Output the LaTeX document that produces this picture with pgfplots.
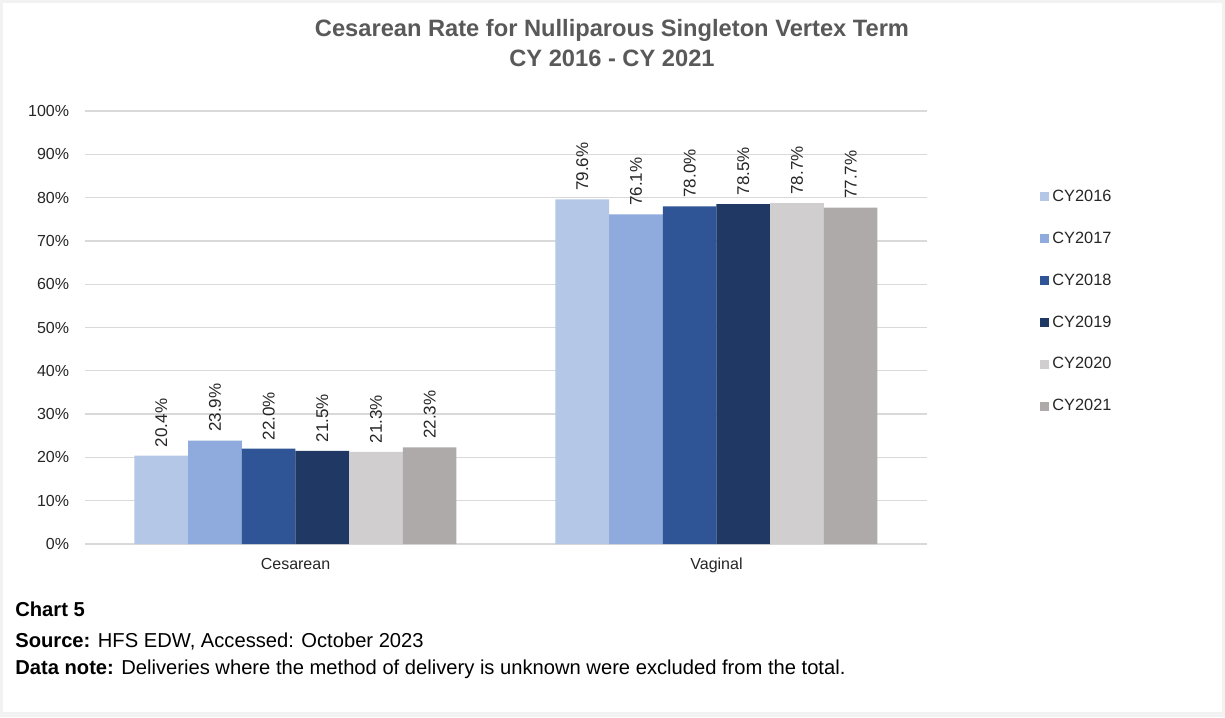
\documentclass[border=0pt]{standalone}
\usepackage{pgfplots}
\pgfplotsset{compat=1.18}
\usepackage{fontspec}
\setmainfont{Liberation Sans}

\definecolor{cA}{HTML}{B4C7E7}
\definecolor{cB}{HTML}{8FAADC}
\definecolor{cC}{HTML}{2F5597}
\definecolor{cD}{HTML}{203864}
\definecolor{cE}{HTML}{D0CECE}
\definecolor{cF}{HTML}{AEAAAA}
\definecolor{gridc}{HTML}{D9D9D9}
\definecolor{titlec}{HTML}{595959}
\definecolor{txt}{HTML}{262626}
\definecolor{frame}{HTML}{F2F2F2}

\begin{document}
\begin{tikzpicture}
% background panel (1px = 0.6pt)
\begin{scope}[x=0.6pt,y=-0.6pt]
  \fill[frame] (0,0) rectangle (1225,717);
  \fill[white] (3,3) rectangle (1222,712);
  \node[font=\bfseries\fontsize{14.2}{16}\selectfont, text=titlec] at (612,30) {Cesarean Rate for Nulliparous Singleton Vertex Term};
  \node[font=\bfseries\fontsize{14.2}{16}\selectfont, text=titlec] at (612,58) {CY 2016 - CY 2021};
  \node[anchor=base west, font=\fontsize{12.1}{14}\selectfont, text=black, inner sep=0pt] at (15,616) {\textbf{Chart 5}};
  \node[anchor=base west, font=\fontsize{12.1}{14}\selectfont, text=black, inner sep=0pt] at (15,647) {\textbf{Source:} HFS EDW, Accessed: October 2023};
  \node[anchor=base west, font=\fontsize{12.1}{14}\selectfont, text=black, inner sep=0pt] at (15,674) {\textbf{Data note:} Deliveries where the method of delivery is unknown were excluded from the total.};
\end{scope}

\begin{axis}[
    at={(51pt,-326.4pt)}, anchor=south west,
    scale only axis,
    width=505.2pt, height=259.8pt,
    ybar=0pt,
    bar width=32.2pt,
    xmin=-0.5, xmax=1.5,
    ymin=0, ymax=100,
    xtick={0,1},
    xticklabels={Cesarean,Vaginal},
    ytick={0,10,...,100},
    yticklabel={\pgfmathprintnumber{\tick}\%},
    /pgf/number format/assume math mode=true,
    ymajorgrids,
    grid style={gridc, line width=0.8pt},
    axis line style={draw=none},
    tick style={draw=none},
    ticklabel style={font=\fontsize{9.6}{11}\selectfont, text=txt},
    yticklabel style={xshift=-6pt},
    xticklabel style={yshift=-0.8pt},
    nodes near coords={\pgfmathprintnumber[fixed,fixed zerofill,precision=1]{\pgfplotspointmeta}\%},
    every node near coord/.append style={rotate=90, anchor=west, font=\fontsize{10.2}{12}\selectfont, text=txt, inner xsep=5pt},
    legend image code/.code={\fill[#1] (0pt,-2.7pt) rectangle (5.4pt,2.7pt);},
    legend cell align=left,
    legend style={at={(1.128,0.834)}, anchor=north west, draw=none, fill=none,
        font=\fontsize{9.8}{11}\selectfont, text=txt, row sep=12.8pt,
        /tikz/every even column/.append style={column sep=1pt}},
]
\addplot[fill=cA, draw=none] coordinates {(0,20.4) (1,79.6)};
\addplot[fill=cB, draw=none] coordinates {(0,23.9) (1,76.1)};
\addplot[fill=cC, draw=none] coordinates {(0,22.0) (1,78.0)};
\addplot[fill=cD, draw=none] coordinates {(0,21.5) (1,78.5)};
\addplot[fill=cE, draw=none] coordinates {(0,21.3) (1,78.7)};
\addplot[fill=cF, draw=none] coordinates {(0,22.3) (1,77.7)};
\legend{CY2016,CY2017,CY2018,CY2019,CY2020,CY2021}
\end{axis}
\end{tikzpicture}
\end{document}
